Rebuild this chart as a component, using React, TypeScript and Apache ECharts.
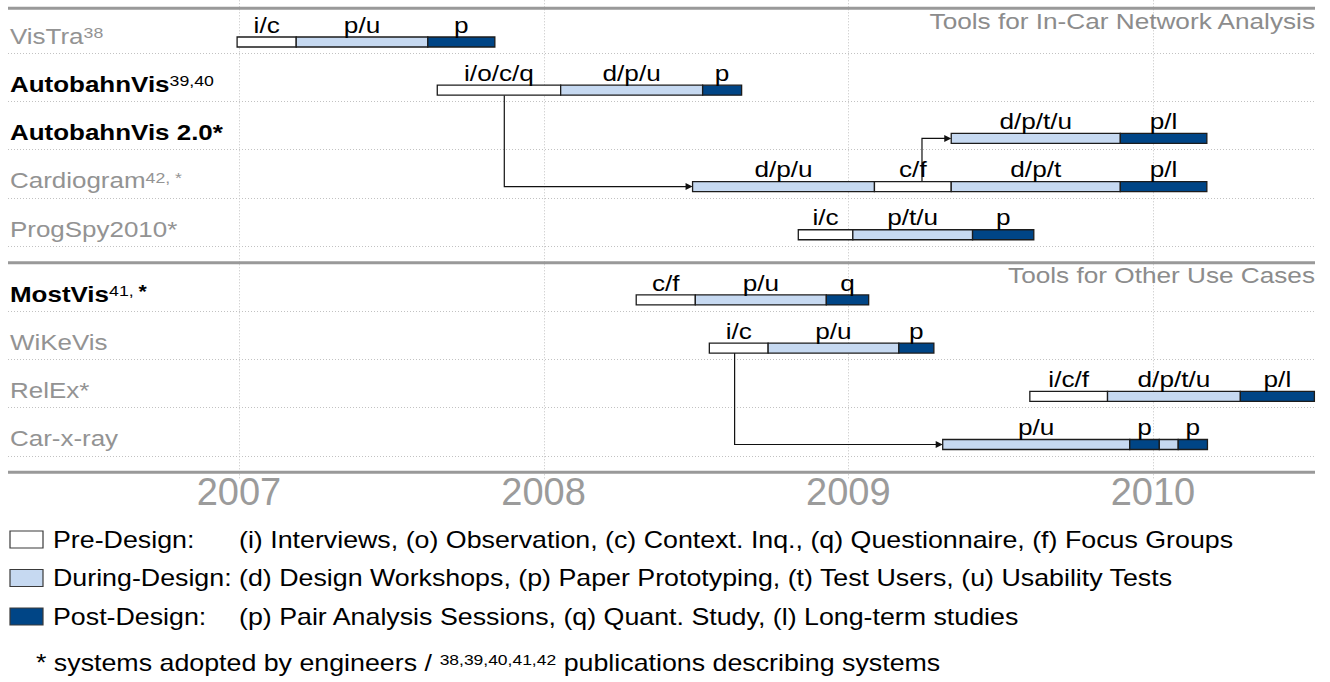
import React, { useEffect, useRef } from 'react';
import * as echarts from 'echarts';

const FONT = '"Liberation Sans", Arial, Helvetica, sans-serif';

// ---------- data ----------
const upperRows = ['VisTra', 'AutobahnVis', 'AutobahnVis 2.0', 'Cardiogram', 'ProgSpy2010'];
const lowerRows = ['MostVis', 'WiKeVis', 'RelEx', 'Car-x-ray'];

const rowLabelText: Record<string, string> = {
  VisTra: '{g|VisTra}{gs|38}',
  AutobahnVis: '{b|AutobahnVis}{bs|39,40}',
  'AutobahnVis 2.0': '{b|AutobahnVis 2.0*}',
  Cardiogram: '{g|Cardiogram}{gs|42, *}',
  ProgSpy2010: '{g|ProgSpy2010*}',
  MostVis: '{b|MostVis}{bs|41, }{bst|*}',
  WiKeVis: '{g|WiKeVis}',
  RelEx: '{g|RelEx*}',
  'Car-x-ray': '{g|Car-x-ray}',
};

const sectionTitles = ['Tools for In-Car Network Analysis', 'Tools for Other Use Cases'];
const yearTicks = [2007, 2008, 2009, 2010];

type Seg = [number, number, 'pre' | 'during' | 'post', string];

const segVisTra: Seg[] = [
  [2006.994, 2007.188, 'pre', 'i/c'],
  [2007.188, 2007.620, 'during', 'p/u'],
  [2007.620, 2007.840, 'post', 'p'],
];
const segAutobahnVis: Seg[] = [
  [2007.651, 2008.056, 'pre', 'i/o/c/q'],
  [2008.056, 2008.522, 'during', 'd/p/u'],
  [2008.522, 2008.650, 'post', 'p'],
];
const segAutobahnVis2: Seg[] = [
  [2009.338, 2009.893, 'during', 'd/p/t/u'],
  [2009.893, 2010.177, 'post', 'p/l'],
];
const segCardiogram: Seg[] = [
  [2008.489, 2009.086, 'during', 'd/p/u'],
  [2009.086, 2009.338, 'pre', 'c/f'],
  [2009.338, 2009.893, 'during', 'd/p/t'],
  [2009.893, 2010.177, 'post', 'p/l'],
];
const segProgSpy: Seg[] = [
  [2008.836, 2009.015, 'pre', 'i/c'],
  [2009.015, 2009.408, 'during', 'p/t/u'],
  [2009.408, 2009.609, 'post', 'p'],
];
const segMostVis: Seg[] = [
  [2008.304, 2008.498, 'pre', 'c/f'],
  [2008.498, 2008.928, 'during', 'p/u'],
  [2008.928, 2009.067, 'post', 'q'],
];
const segWiKeVis: Seg[] = [
  [2008.544, 2008.737, 'pre', 'i/c'],
  [2008.737, 2009.166, 'during', 'p/u'],
  [2009.166, 2009.281, 'post', 'p'],
];
const segRelEx: Seg[] = [
  [2009.596, 2009.851, 'pre', 'i/c/f'],
  [2009.851, 2010.287, 'during', 'd/p/t/u'],
  [2010.287, 2010.530, 'post', 'p/l'],
];
const segCarXRay: Seg[] = [
  [2009.310, 2009.924, 'during', 'p/u'],
  [2009.924, 2010.021, 'post', 'p'],
  [2010.021, 2010.083, 'during', ''],
  [2010.083, 2010.179, 'post', 'p'],
];

const segmentsByRow: Record<string, Seg[]> = {
  VisTra: segVisTra,
  AutobahnVis: segAutobahnVis,
  'AutobahnVis 2.0': segAutobahnVis2,
  Cardiogram: segCardiogram,
  ProgSpy2010: segProgSpy,
  MostVis: segMostVis,
  WiKeVis: segWiKeVis,
  RelEx: segRelEx,
  'Car-x-ray': segCarXRay,
};

// follow-up links: [from row, to row, x of vertical connector]
const links: [string, string, number][] = [
  ['AutobahnVis', 'Cardiogram', 2007.871],
  ['Cardiogram', 'AutobahnVis 2.0', 2009.242],
  ['WiKeVis', 'Car-x-ray', 2008.627],
];

const legendPhases = ['Pre-Design:', 'During-Design:', 'Post-Design:'];
const legendDescs = [
  '(i) Interviews, (o) Observation, (c) Context. Inq., (q) Questionnaire, (f) Focus Groups',
  '(d) Design Workshops, (p) Paper Prototyping, (t) Test Users, (u) Usability Tests',
  '(p) Pair Analysis Sessions, (q) Quant. Study, (l) Long-term studies',
];
const footnoteRich = '{n|* systems adopted by engineers / }{s|38,39,40,41,42}{n| publications describing systems}';

// ---------- layout / style ----------
const X_MIN = 2006.242;
const X_MAX = 2010.532;
const Y_MIN = -0.43;
const Y_MAX = 9.2;
const SECTION_GAP = 0.353;
const BAR_OFFSET = 13;
const BAR_H = 10;
const TEXT_SX = 1.19;

const phaseFill: Record<string, string> = { pre: '#ffffff', during: '#c6d9f1', post: '#004586' };
const GRAY = '#939393';
const DOT = '#c2c2c2';

const lowerStart = upperRows.length + SECTION_GAP;
const rows = [
  ...upperRows.map((name, i) => ({ name, pos: i })),
  ...lowerRows.map((name, j) => ({ name, pos: lowerStart + j })),
];
const posOf = (name: string) => rows.find((r) => r.name === name)!.pos;

const labelRich = {
  g: { fill: GRAY, fontSize: 22, fontFamily: FONT },
  gs: { fill: GRAY, fontSize: 15, fontFamily: FONT, verticalAlign: 'top' },
  b: { fill: '#000', fontSize: 22, fontWeight: 'bold', fontFamily: FONT },
  bs: { fill: '#000', fontSize: 15, fontFamily: FONT, verticalAlign: 'top' },
  bst: { fill: '#000', fontSize: 18, fontWeight: 'bold', fontFamily: FONT, verticalAlign: 'top' },
};

export default function App() {
  const ref = useRef<HTMLDivElement>(null);

  useEffect(() => {
    document.body.style.margin = '0';
    if (!ref.current) return;
    const chart = echarts.init(ref.current, undefined, { renderer: 'svg' });

    const barItems = rows.flatMap((r) => segmentsByRow[r.name].map((s) => ({ r, s })));

    const renderFrame = (params: any, api: any) => {
      const cs = params.coordSys;
      const left = cs.x;
      const right = cs.x + cs.width;
      const top = cs.y;
      const bottom = cs.y + cs.height;
      const children: any[] = [];
      yearTicks.forEach((yr) => {
        const px = Math.round(api.coord([yr, 0])[0]) + 0.5;
        children.push({
          type: 'line',
          shape: { x1: px, y1: top - 8, x2: px, y2: bottom + 8 },
          style: { stroke: DOT, lineWidth: 1, lineDash: [1, 2] },
        });
      });
      rows.forEach((r) => {
        const py = Math.round(api.coord([X_MIN, r.pos + 0.5])[1]) + 0.5;
        children.push({
          type: 'line',
          shape: { x1: left, y1: py, x2: right, y2: py },
          style: { stroke: DOT, lineWidth: 1, lineDash: [1, 2] },
        });
      });
      const sectionTops = [Y_MIN, lowerStart - 0.5];
      [...sectionTops, Y_MAX].forEach((v) => {
        const py = api.coord([X_MIN, v])[1];
        children.push({
          type: 'line',
          shape: { x1: left, y1: py, x2: right, y2: py },
          style: { stroke: '#999999', lineWidth: 3 },
        });
      });
      sectionTitles.forEach((t, i) => {
        const py = api.coord([X_MIN, sectionTops[i]])[1] + 12.7;
        children.push({
          type: 'text',
          x: right,
          y: py,
          scaleX: TEXT_SX,
          style: { text: t, fill: '#8c8c8c', fontSize: 22, fontFamily: FONT, align: 'right', verticalAlign: 'middle' },
        });
      });
      rows.forEach((r) => {
        const py = api.coord([X_MIN, r.pos])[1] + 7;
        children.push({
          type: 'text',
          x: left + 2,
          y: py,
          scaleX: 1.18,
          style: {
            text: rowLabelText[r.name],
            rich: labelRich,
            fill: GRAY,
            fontSize: 22,
            fontFamily: FONT,
            align: 'left',
            verticalAlign: 'middle',
          },
        });
      });
      return { type: 'group', children };
    };

    const renderBar = (params: any, api: any) => {
      const { s } = barItems[params.dataIndex];
      const p0 = api.coord([api.value(0), api.value(2)]);
      const p1 = api.coord([api.value(1), api.value(2)]);
      const yc = p0[1] + BAR_OFFSET;
      const children: any[] = [
        {
          type: 'rect',
          shape: { x: p0[0], y: yc - BAR_H / 2, width: p1[0] - p0[0], height: BAR_H },
          style: { fill: phaseFill[s[2]], stroke: '#1c1c1c', lineWidth: 1.3 },
        },
      ];
      if (s[3]) {
        children.push({
          type: 'text',
          x: (p0[0] + p1[0]) / 2,
          y: yc - BAR_H / 2 - 1,
          scaleX: TEXT_SX,
          style: { text: s[3], fill: '#000', fontSize: 22, fontFamily: FONT, align: 'center', verticalAlign: 'bottom' },
        });
      }
      return { type: 'group', children };
    };

    const linkData = links.map(([from, to, x]) => [x, posOf(from), posOf(to), segmentsByRow[to][0][0]]);
    const renderLink = (params: any, api: any) => {
      const x = api.coord([api.value(0), api.value(1)])[0];
      const ySrc = api.coord([api.value(0), api.value(1)])[1] + BAR_OFFSET;
      const yTgt = api.coord([api.value(0), api.value(2)])[1] + BAR_OFFSET;
      const xT = api.coord([api.value(3), api.value(2)])[0];
      const down = api.value(2) > api.value(1);
      const yStart = down ? ySrc + BAR_H / 2 : ySrc - BAR_H / 2;
      return {
        type: 'group',
        children: [
          {
            type: 'polyline',
            shape: { points: [[x, yStart], [x, yTgt], [xT - 6, yTgt]] },
            style: { stroke: '#111', lineWidth: 1.2, fill: null },
          },
          {
            type: 'polygon',
            shape: { points: [[xT, yTgt], [xT - 7, yTgt - 3.5], [xT - 7, yTgt + 3.5]] },
            style: { fill: '#111' },
          },
        ],
      };
    };

    const legendY = [539.5, 578, 616.5];
    const legendFills = [phaseFill.pre, phaseFill.during, phaseFill.post];
    const legendGraphic: any[] = [];
    legendPhases.forEach((p, i) => {
      legendGraphic.push({
        type: 'rect',
        shape: { x: 10, y: legendY[i] - 8.5, width: 33, height: 17 },
        style: { fill: legendFills[i], stroke: '#3a3a3a', lineWidth: 1.2 },
      });
      legendGraphic.push({
        type: 'text',
        x: 53,
        y: legendY[i],
        scaleX: 1.165,
        style: { text: p, fill: '#000', fontSize: 23, fontFamily: FONT, align: 'left', verticalAlign: 'middle' },
      });
      legendGraphic.push({
        type: 'text',
        x: 239,
        y: legendY[i],
        scaleX: 1.165,
        style: { text: legendDescs[i], fill: '#000', fontSize: 23, fontFamily: FONT, align: 'left', verticalAlign: 'middle' },
      });
    });
    legendGraphic.push({
      type: 'text',
      x: 36,
      y: 663,
      scaleX: 1.165,
      style: {
        text: footnoteRich,
        rich: {
          n: { fill: '#000', fontSize: 23, fontFamily: FONT },
          s: { fill: '#000', fontSize: 15, fontFamily: FONT, verticalAlign: 'top' },
        },
        fill: '#000',
        fontSize: 23,
        fontFamily: FONT,
        align: 'left',
        verticalAlign: 'middle',
      },
    });

    chart.setOption({
      animation: false,
      grid: { left: 8, right: 15, top: 8.3, height: 464, outerBoundsMode: 'none' },
      xAxis: {
        type: 'value',
        min: X_MIN,
        max: X_MAX,
        axisLine: { show: false },
        axisTick: { show: false },
        splitLine: { show: false },
        axisLabel: {
          customValues: yearTicks,
          formatter: (v: number) => String(Math.round(v)),
          fontSize: 38,
          color: '#9b9b9b',
          fontFamily: FONT,
          margin: 1,
        },
      },
      yAxis: { type: 'value', inverse: true, min: Y_MIN, max: Y_MAX, show: false },
      graphic: legendGraphic,
      series: [
        { type: 'custom', name: 'frame', renderItem: renderFrame, data: [[X_MIN, 0]], silent: true, z: 1 },
        { type: 'custom', name: 'links', renderItem: renderLink, data: linkData, encode: { x: 0, y: 1 }, silent: true, z: 2 },
        {
          type: 'custom',
          name: 'phases',
          renderItem: renderBar,
          data: barItems.map(({ r, s }) => [s[0], s[1], r.pos]),
          encode: { x: [0, 1], y: 2 },
          silent: true,
          z: 3,
        },
      ],
    });

    return () => chart.dispose();
  }, []);

  return <div ref={ref} style={{ width: 1330, height: 682 }} />;
}
